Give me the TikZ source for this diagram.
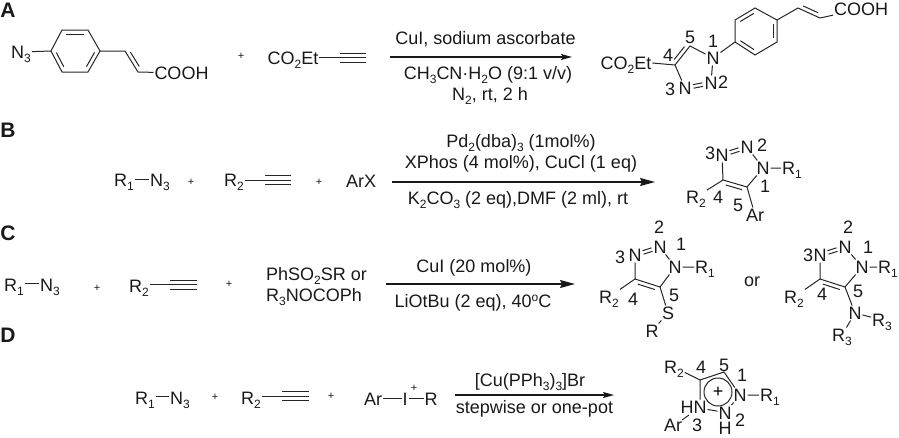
\documentclass[tikz,border=0pt]{standalone}
\usepackage{fontspec}
\setmainfont{Liberation Sans}
\usetikzlibrary{calc,arrows.meta}
\newcommand\sbs[1]{\raisebox{-4pt}{\fontsize{12}{12}\selectfont #1}}
\newcommand\inb[3]{\draw[bond] ($(#1)!.16!(#2)!4pt!#3:(#2)$) -- ($(#2)!.16!(#1)!4pt!-#3:(#1)$);}
\newcommand\nnb[3]{\draw[bond] ($(#1)!.32!(#2)!1.8pt!#3:(#2)$) -- ($(#2)!.32!(#1)!1.8pt!-#3:(#1)$);\draw[bond] ($(#1)!.32!(#2)!1.8pt!-#3:(#2)$) -- ($(#2)!.32!(#1)!1.8pt!#3:(#1)$);}
\newcommand\trip[2]{\draw[bond] (#1) -- (#2) ([yshift=4.5pt]#1) -- ([yshift=4.5pt]#2) ([yshift=-4.5pt]#1) -- ([yshift=-4.5pt]#2);}
\tikzset{
  bond/.style={line width=1pt,draw=black!85},
  atom/.style={inner sep=0.8pt,text height=13pt,text depth=0pt,font=\fontsize{18}{18}\selectfont,text=black!90},
  num/.style={inner sep=0pt,font=\fontsize{18}{18}\selectfont,text=black!90},
  cond/.style={inner sep=0pt,font=\fontsize{18}{18}\selectfont,text=black!90},
  plus/.style={inner sep=0pt,font=\fontsize{11}{11}\selectfont,text=black!90},
  letter/.style={inner sep=0pt,font=\fontsize{21}{21}\selectfont\bfseries,text=black!90},
  rxn/.style={line width=1.2pt,draw=black!90,-{Stealth[length=15pt,width=8pt,inset=2pt]}},
  rxnsmall/.style={line width=1.2pt,draw=black!90,-{Stealth[length=11pt,width=6pt,inset=2pt]}}
}
\begin{document}
\begin{tikzpicture}[x=1pt,y=-1pt]
\useasboundingbox (0,0) rectangle (899,437);
% letters
\node[letter] (lA) at (8,10) {A};
\node[letter] (lB) at (8,130) {B};
\node[letter] (lC) at (8,233) {C};
\node[letter] (lD) at (8,335) {D};
% ---------- A reactants
\node[atom] (aN3) at (21,52) {N\sbs{3}};
\foreach \n/\p in {a1/{62,30},a2/{88,30},a3/{100,51},a4/{88,72},a5/{62,72},a6/{51,51},a7/{125,51},a8/{138,72}} \coordinate (\n) at (\p);
\draw[bond] (a1)--(a2)--(a3)--(a4)--(a5)--(a6)--cycle;
\inb{a1}{a2}{-90}\inb{a3}{a4}{-90}\inb{a5}{a6}{-90}
\node[atom] (aCOOH) at (181.5,73) {COOH};
\draw[bond] (aN3)--(a6) (a3)--(a7)--(a8)--(aCOOH);
\inb{a7}{a8}{90}
\node[plus] (ap) at (241,56) {+};
\node[atom] (aEst) at (293,58) {CO\sbs{2}Et};
\coordinate (at1) at (340,57.5); \coordinate (at2) at (366,57.5);
\draw[bond] (aEst.east|-at1)--(at1);
\trip{at1}{at2}
% arrow A
\coordinate (aa1) at (390,57); \coordinate (aa2) at (572,57);
\draw[rxnsmall] (aa1)--(aa2);
\node[cond] (ac1) at (485.5,39) {CuI, sodium ascorbate};
\node[cond] (ac2) at (488,75) {CH\sbs{3}CN·H\sbs{2}O (9:1 v/v)};
\node[cond] (ac3) at (490,96) {N\sbs{2}, rt, 2 h};
% A product
\node[atom] (pEst) at (626,63) {CO\sbs{2}Et};
\coordinate (pC4) at (675,65); \coordinate (pC5) at (690,46);
\node[atom] (pN1) at (713,58) {N};
\node[atom] (pN2) at (711,83) {N};
\node[atom] (pN3) at (685,88) {N};
\draw[bond] (pEst.east)--(pC4)--(pC5)--(pN1)--(pN2) (pN3)--(pC4);
\inb{pC4}{pC5}{90}
\nnb{pN3}{pN2}{90}
\foreach \n/\p in {b1/{735,20},b2/{755,8},b3/{777,20},b4/{777,42},b5/{755,55},b6/{735,42},b7/{798,8},b8/{820,18}} \coordinate (\n) at (\p);
\draw[bond] (b1)--(b2)--(b3)--(b4)--(b5)--(b6)--cycle;
\inb{b1}{b2}{-90}\inb{b3}{b4}{-90}\inb{b5}{b6}{-90}
\node[atom] (pCOOH) at (861,9) {COOH};
\draw[bond] (pN1)--(b6) (b3)--(b7)--(b8)--(pCOOH);
\inb{b7}{b8}{90}
\node[num] at (690,37) {5}; \node[num] at (713,41) {1}; \node[num] at (668,55) {4};
\node[num] at (670,89) {3}; \node[num] at (723,82) {2};
% ---------- B
\node[atom] (bR1) at (124,180) {R\sbs{1}};
\node[atom] (bN3) at (160,180) {N\sbs{3}};
\draw[bond] (bR1.east|-136,179)--(bN3.west|-136,179);
\node[plus] (bp1) at (191,182) {+};
\node[atom] (bR2) at (234,180) {R\sbs{2}};
\coordinate (bt1) at (265,180); \coordinate (bt2) at (291,180);
\draw[bond] (bR2.east|-bt1)--(bt1); \trip{bt1}{bt2}
\node[plus] (bp2) at (319,182) {+};
\node[atom] (bAr) at (361,181) {ArX};
\coordinate (ba1) at (392,182); \coordinate (ba2) at (655,182);
\draw[rxn] (ba1)--(ba2);
\node[cond] (bc1) at (521,143) {Pd\sbs{2}(dba)\sbs{3} (1mol\%)};
\node[cond] (bc2) at (521,164) {XPhos (4 mol\%), CuCl (1 eq)};
\node[cond] (bc3) at (518,200) {K\sbs{2}CO\sbs{3} (2 eq),DMF (2 ml), rt};
\node[atom] (qN3) at (722,155) {N};
\node[atom] (qN2) at (747,147) {N};
\node[atom] (qN1) at (763,168) {N};
\coordinate (qC5) at (747,187); \coordinate (qC4) at (723,180);
\draw[bond] (qN3)--(qC4)--(qC5)--(qN1)--(qN2);
\nnb{qN3}{qN2}{90}
\inb{qC4}{qC5}{-90}
\node[atom] (qR1) at (792,168) {R\sbs{1}};
\node[atom] (qR2) at (696,197) {R\sbs{2}};
\node[atom] (qAr) at (755,215) {Ar};
\draw[bond] (qN1)--(qR1) (qC4)--(qR2) (qC5)--(qAr);
\node[num] at (710,153) {3}; \node[num] at (762,145) {2}; \node[num] at (765,186) {1};
\node[num] at (718,197) {4}; \node[num] at (738,205) {5};
% ---------- C
\node[atom] (cR1) at (14,285) {R\sbs{1}};
\node[atom] (cN3) at (50,285) {N\sbs{3}};
\draw[bond] (cR1.east|-26,283)--(cN3.west|-26,283);
\node[plus] (cp1) at (97,288) {+};
\node[atom] (cR2) at (139,286) {R\sbs{2}};
\coordinate (ct1) at (170,284.5); \coordinate (ct2) at (197,284.5);
\draw[bond] (cR2.east|-ct1)--(ct1); \trip{ct1}{ct2}
\node[plus] (cp2) at (229,284) {+};
\node[cond,anchor=west] (cr1) at (266,276) {PhSO\sbs{2}SR or};
\node[cond,anchor=west] (cr2) at (266,297) {R\sbs{3}NOCOPh};
\coordinate (ca1) at (386,284); \coordinate (ca2) at (575,284);
\draw[rxn] (ca1)--(ca2);
\node[cond] (cc1) at (474,268) {CuI (20 mol\%)};
\node[cond] (cc2) at (473,303) {LiOtBu (2 eq), 40\raisebox{6pt}{\fontsize{12}{12}\selectfont o}C};
% C product 1
\node[atom] (rN3) at (635,255) {N};
\node[atom] (rN2) at (660,247) {N};
\node[atom] (rN1) at (675,267) {N};
\coordinate (rC5) at (660,287); \coordinate (rC4) at (635,279);
\draw[bond] (rN3)--(rC4)--(rC5)--(rN1)--(rN2);
\nnb{rN3}{rN2}{90}
\inb{rC4}{rC5}{-90}
\node[atom] (rR1) at (705,267) {R\sbs{1}};
\node[atom] (rR2) at (609,297) {R\sbs{2}};
\node[atom] (rS) at (668,313) {S};
\node[atom] (rR) at (652,331) {R};
\draw[bond] (rN1)--(rR1) (rC4)--(rR2) (rC5)--(rS)--(rR);
\node[num] at (620,257) {3}; \node[num] at (659,227) {2}; \node[num] at (681,244) {1};
\node[num] at (633,299) {4}; \node[num] at (674,295) {5};
\node[cond] (cor) at (752,282) {or};
% C product 2
\node[atom] (sN3) at (820,255) {N};
\node[atom] (sN2) at (845,247) {N};
\node[atom] (sN1) at (862,267) {N};
\coordinate (sC5) at (845,287); \coordinate (sC4) at (820,279);
\draw[bond] (sN3)--(sC4)--(sC5)--(sN1)--(sN2);
\nnb{sN3}{sN2}{90}
\inb{sC4}{sC5}{-90}
\node[atom] (sR1) at (888,267) {R\sbs{1}};
\node[atom] (sR2) at (794,297) {R\sbs{2}};
\node[atom] (sN) at (855,313) {N};
\node[atom] (sR3) at (882,320) {R\sbs{3}};
\node[atom] (sR4) at (842,335) {R\sbs{3}};
\draw[bond] (sN1)--(sR1) (sC4)--(sR2) (sC5)--(sN)--(sR3) (sN)--(sR4);
\node[num] at (808,255) {3}; \node[num] at (848,227) {2}; \node[num] at (868,247) {1};
\node[num] at (822,294) {4}; \node[num] at (858,291) {5};
% ---------- D
\node[atom] (dR1) at (145,398) {R\sbs{1}};
\node[atom] (dN3) at (180,398) {N\sbs{3}};
\draw[bond] (dR1.east|-156,396)--(dN3.west|-156,396);
\node[plus] (dp1) at (215,397) {+};
\node[atom] (dR2) at (251,398) {R\sbs{2}};
\coordinate (dt1) at (282,396); \coordinate (dt2) at (309,396);
\draw[bond] (dR2.east|-dt1)--(dt1); \trip{dt1}{dt2}
\node[plus] (dp2) at (331,396) {+};
\node[atom] (dAr) at (373,399) {Ar};
\node[atom] (dI) at (405,399) {I};
\node[atom] (dR) at (431,399) {R};
\node[plus] (dIp) at (414,388) {+};
\draw[bond] (dAr.east|-385,398)--(dI.west|-385,398) (dI.east|-385,398)--(dR.west|-385,398);
\coordinate (da1) at (455,395); \coordinate (da2) at (614,395);
\draw[rxnsmall] (da1)--(da2);
\node[cond] (dc1) at (530,382) {[Cu(PPh\sbs{3})\sbs{3}]Br};
\node[cond] (dc2) at (534.5,409) {stepwise or one-pot};
% D product
\coordinate (tC4) at (700,380); \coordinate (tC5) at (724,372);
\node[atom] (tN1) at (740,395) {N};
\node[atom] (tN2) at (725,412.5) {N};
\node[atom] (tHN) at (693.5,407) {HN};
\node[atom] (tH) at (725,428) {H};
\draw[bond] (tHN.north-|tC4)--(tC4)--(tC5)--(tN1)--(tN2)--(tHN);
\node[atom] (tR1) at (770,395) {R\sbs{1}};
\node[atom] (tR2) at (674,367) {R\sbs{2}};
\node[atom] (tAr) at (673,425) {Ar};
\draw[bond] (tN1)--(tR1) (tC4)--(tR2);
\coordinate (tb1) at (682,420); \coordinate (tb2) at (689,415);
\draw[bond] (tb1)--(tb2);
\node[circle,draw=black!85,line width=1pt,minimum size=28pt,inner sep=0pt,font=\fontsize{18}{18}\selectfont] (tc) at (718,392) {+};
\node[num] at (701,367) {4}; \node[num] at (724,365) {5}; \node[num] at (742,375) {1};
\node[num] at (740,420) {2}; \node[num] at (697,425) {3};
\end{tikzpicture}
\end{document}
